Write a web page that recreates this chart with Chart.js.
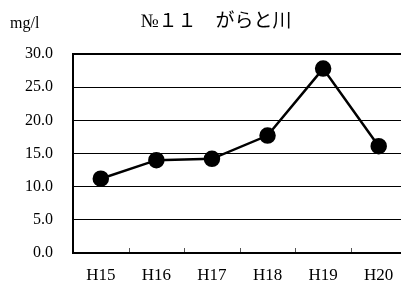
<!DOCTYPE html>
<html>
<head>
<meta charset="utf-8">
<script src="https://cdn.jsdelivr.net/npm/chart.js@4"></script>
<style>
  html, body { margin: 0; padding: 0; overflow: hidden; background: #fff; }
  #wrap { width: 416px; height: 290px; }
</style>
</head>
<body>
<div id="wrap"><canvas id="c" width="416" height="290"></canvas></div>
<script>
const years = ["H15", "H16", "H17", "H18", "H19", "H20"];
const values = [11.2, 14.0, 14.2, 17.7, 27.8, 16.1];
const yTicks = [0, 5, 10, 15, 20, 25, 30];
const titleText = "№１１　がらと川";
const unitText = "mg/l";

const serif = "'Liberation Serif', 'Noto Sans CJK JP', serif";

const decor = {
    id: 'decor',
    afterDraw(chart) {
        const ctx = chart.ctx;
        const a = chart.chartArea;
        const x = chart.scales.x;
        ctx.save();
        // small category ticks along the bottom
        ctx.strokeStyle = '#555';
        ctx.lineWidth = 1;
        for (let i = 0; i < years.length - 1; i++) {
            const px = Math.round((x.getPixelForValue(i) + x.getPixelForValue(i + 1)) / 2) + 0.5;
            ctx.beginPath();
            ctx.moveTo(px, a.bottom);
            ctx.lineTo(px, a.bottom - 5);
            ctx.stroke();
        }
        // frame
        ctx.strokeStyle = '#000';
        ctx.lineWidth = 2;
        ctx.strokeRect(a.left, a.top, a.right - a.left, a.bottom - a.top);
        // title and unit
        ctx.fillStyle = '#000';
        ctx.textBaseline = 'middle';
        ctx.textAlign = 'center';
        ctx.font = "19px " + serif;
        ctx.fillText(titleText, 216, 22);
        ctx.textAlign = 'left';
        ctx.font = "16px " + serif;
        ctx.fillText(unitText, 10, 24);
        ctx.restore();
    }
};

new Chart(document.getElementById("c"), {
    type: 'line',
    data: {
        labels: years,
        datasets: [{
            data: values,
            borderColor: '#000',
            backgroundColor: '#000',
            borderWidth: 2.5,
            pointRadius: 7,
            pointHoverRadius: 7,
            pointBackgroundColor: '#000',
            pointBorderColor: '#000',
            tension: 0
        }]
    },
    options: {
        responsive: false,
        animation: false,
        layout: { padding: { top: 54, left: 0, right: 0, bottom: 0 } },
        plugins: {
            legend: { display: false },
            title: { display: false },
            tooltip: { enabled: false }
        },
        scales: {
            x: {
                offset: true,
                grid: { display: false, drawTicks: false },
                border: { display: false },
                ticks: {
                    color: '#000',
                    padding: 12,
                    font: { family: serif, size: 17 },
                    maxRotation: 0
                },
                afterFit(s) { s.height = 37; }
            },
            y: {
                min: 0,
                max: 30,
                afterBuildTicks(s) { s.ticks = yTicks.map(v => ({ value: v })); },
                grid: { color: '#000', lineWidth: 1, drawTicks: false },
                border: { display: false },
                ticks: {
                    color: '#000',
                    padding: 20,
                    font: { family: serif, size: 16 },
                    callback: v => v.toFixed(1)
                },
                afterFit(s) { s.width = 73; }
            }
        }
    },
    plugins: [decor]
});
</script>
</body>
</html>
